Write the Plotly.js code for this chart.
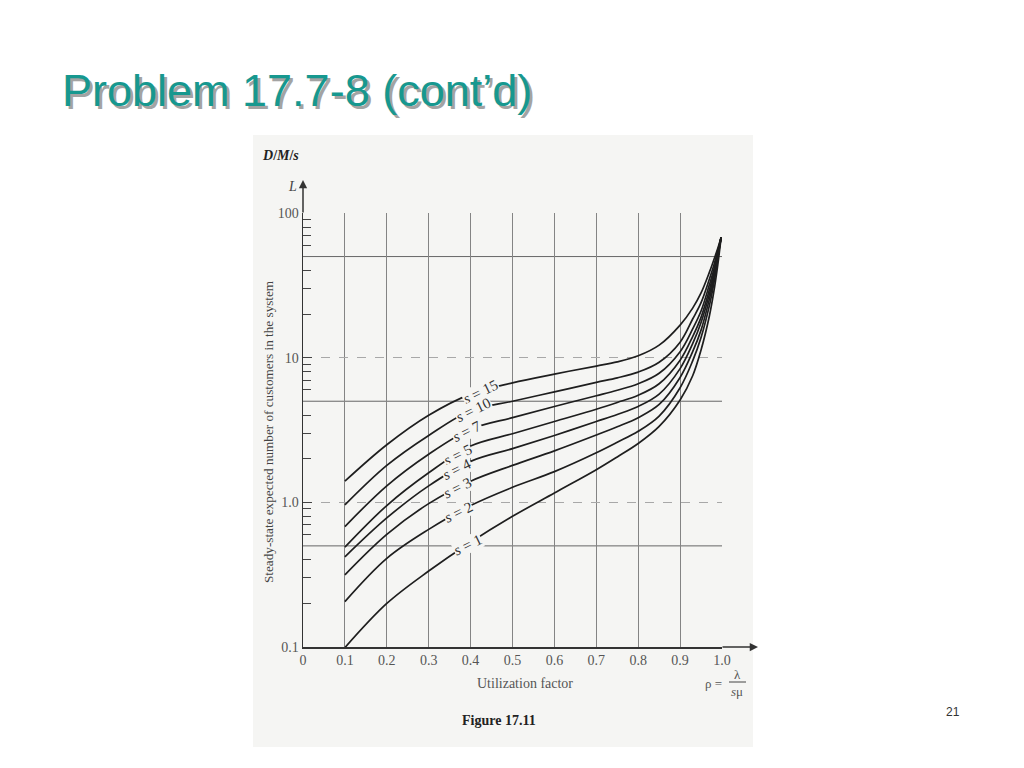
<!DOCTYPE html>
<html>
<head>
<meta charset="utf-8">
<script src="https://cdn.plot.ly/plotly-3.0.1.min.js"></script>
<style>html,body{margin:0;padding:0;background:#fff;}#chart{width:1024px;height:768px;}</style>
</head>
<body>
<div id="chart"></div>
<script>
// ---- data ----
const rho = [0.1, 0.2, 0.3, 0.4, 0.5, 0.6, 0.7, 0.75, 0.8, 0.85, 0.9, 0.93, 0.95, 0.97, 0.98, 0.99, 0.998];
const L_s15 = [1.40, 2.50, 4.00, 5.60, 6.70, 7.70, 8.75, 9.35, 10.3, 12.2, 16.8, 22, 28, 39, 47, 57, 68];
const L_s10 = [0.96, 1.80, 2.90, 4.30, 5.00, 5.80, 6.75, 7.25, 7.95, 9.3, 12.8, 18.5, 24, 35, 43, 55, 68];
const L_s7  = [0.68, 1.30, 2.15, 3.20, 3.85, 4.60, 5.45, 5.95, 6.6, 7.8, 11.0, 15.8, 21, 32, 40, 53, 68];
const L_s5  = [0.49, 0.95, 1.60, 2.45, 2.98, 3.62, 4.40, 4.90, 5.5, 6.6, 9.6, 14.0, 19, 29.5, 38, 52, 68];
const L_s4  = [0.42, 0.78, 1.30, 1.92, 2.35, 2.90, 3.62, 4.05, 4.6, 5.6, 8.4, 12.5, 17.5, 27.5, 36, 51, 68];
const L_s3  = [0.315, 0.60, 0.98, 1.40, 1.80, 2.27, 2.92, 3.33, 3.85, 4.75, 7.3, 11.0, 15.5, 25.5, 34, 50, 68];
const L_s2  = [0.206, 0.41, 0.65, 0.95, 1.27, 1.63, 2.20, 2.60, 3.1, 3.95, 6.2, 9.5, 13.8, 23, 32, 49, 68];
const L_s1  = [0.099, 0.20, 0.335, 0.53, 0.80, 1.16, 1.68, 2.06, 2.55, 3.35, 5.1, 7.5, 11.3, 19.5, 28, 44, 68];

const servers = [15, 10, 7, 5, 4, 3, 2, 1];
const seriesL = [L_s15, L_s10, L_s7, L_s5, L_s4, L_s3, L_s2, L_s1];
const labelRho = [0.4225, 0.406, 0.392, 0.368, 0.368, 0.368, 0.372, 0.392];

const xTickVals = [0, 0.1, 0.2, 0.3, 0.4, 0.5, 0.6, 0.7, 0.8, 0.9, 1.0];
const xTickText = ['0', '0.1', '0.2', '0.3', '0.4', '0.5', '0.6', '0.7', '0.8', '0.9', '1.0'];
const yTickVals = [0.1, 1, 10, 100];
const yTickText = ['0.1', '1.0', '10', '100'];
const yMinorVals = [0.2, 0.3, 0.4, 0.6, 0.7, 0.8, 0.9, 2, 3, 4, 6, 7, 8, 9, 20, 30, 40, 60, 70, 80, 90];
const refLines = [0.5, 5, 50];

// ---- styling ----
const BG = '#f5f5f3';
const SERIF = 'Liberation Serif, Times New Roman, serif';
const INK = '#1e1e1e';

// geometry helpers (pixel -> paper) for a 303..722 x 213..647 plot box
const PL = 303, PR = 722, PT = 213, PB = 647;
const px = v => (v - PL) / (PR - PL);
const py = v => (PB - v) / (PB - PT);

function interpLog(xs, ys, x) {
  for (let i = 0; i < xs.length - 1; i++) {
    if (x >= xs[i] && x <= xs[i + 1]) {
      const t = (x - xs[i]) / (xs[i + 1] - xs[i]);
      return Math.log10(ys[i]) + t * (Math.log10(ys[i + 1]) - Math.log10(ys[i]));
    }
  }
  return Math.log10(ys[ys.length - 1]);
}

const traces = seriesL.map((L, i) => ({
  x: rho, y: L, type: 'scatter', mode: 'lines',
  name: 's = ' + servers[i],
  line: { color: INK, width: 1.7, shape: 'spline', smoothing: 1.0 },
  hoverinfo: 'skip'
}));

const shapes = [
  { type: 'rect', xref: 'paper', yref: 'paper', x0: px(253), x1: px(753), y0: py(747), y1: py(135),
    fillcolor: BG, line: { width: 0 }, layer: 'below' }
];
refLines.forEach(v => shapes.push({
  type: 'line', xref: 'x', yref: 'y', x0: 0, x1: 1, y0: v, y1: v,
  line: { color: '#666', width: 1 }, layer: 'below'
}));
// fraction bar of rho = lambda / (s mu)
shapes.push({ type: 'line', xref: 'paper', yref: 'paper', x0: px(729), x1: px(746), y0: py(682), y1: py(682),
  line: { color: '#444', width: 1 } });

const annotations = [];
servers.forEach((s, i) => {
  annotations.push({
    x: labelRho[i], y: interpLog(rho, seriesL[i], labelRho[i]), xref: 'x', yref: 'y',
    text: '<i>s</i> = ' + s, showarrow: false, textangle: -26,
    font: { family: SERIF, size: 15, color: '#333' }, bgcolor: BG, borderpad: 0
  });
});
// axis arrows
annotations.push({ xref: 'paper', yref: 'paper', x: 0, y: py(180), ax: 0, ay: 34, text: '',
  showarrow: true, arrowhead: 2, arrowsize: 1.1, arrowwidth: 1.5, arrowcolor: '#333' });
annotations.push({ xref: 'paper', yref: 'paper', x: px(758), y: 0, ax: -37, ay: 0, text: '',
  showarrow: true, arrowhead: 2, arrowsize: 1.1, arrowwidth: 1.5, arrowcolor: '#333' });
// texts
annotations.push({ xref: 'paper', yref: 'paper', x: px(260), y: py(156), xanchor: 'left', yanchor: 'middle',
  text: '<b><i>D</i>/<i>M</i>/<i>s</i></b>', showarrow: false, font: { family: SERIF, size: 14, color: '#222' } });
annotations.push({ xref: 'paper', yref: 'paper', x: px(292), y: py(186), xanchor: 'center', yanchor: 'middle',
  text: '<i>L</i>', showarrow: false, font: { family: SERIF, size: 14, color: '#444' } });
annotations.push({ xref: 'paper', yref: 'paper', x: px(268), y: py(432), xanchor: 'center', yanchor: 'middle',
  text: 'Steady-state expected number of customers in the system', textangle: -90, showarrow: false,
  font: { family: SERIF, size: 13.2, color: '#444' } });
annotations.push({ xref: 'paper', yref: 'paper', x: px(525), y: py(683), xanchor: 'center', yanchor: 'middle',
  text: 'Utilization factor', showarrow: false, font: { family: SERIF, size: 14, color: '#555' } });
annotations.push({ xref: 'paper', yref: 'paper', x: px(713), y: py(683), xanchor: 'center', yanchor: 'middle',
  text: 'ρ =', showarrow: false, font: { family: SERIF, size: 13, color: '#555' } });
annotations.push({ xref: 'paper', yref: 'paper', x: px(737), y: py(674), xanchor: 'center', yanchor: 'middle',
  text: 'λ', showarrow: false, font: { family: SERIF, size: 13, color: '#555' } });
annotations.push({ xref: 'paper', yref: 'paper', x: px(737), y: py(691), xanchor: 'center', yanchor: 'middle',
  text: '<i>s</i>μ', showarrow: false, font: { family: SERIF, size: 13, color: '#555' } });
annotations.push({ xref: 'paper', yref: 'paper', x: px(499), y: py(720), xanchor: 'center', yanchor: 'middle',
  text: '<b>Figure 17.11</b>', showarrow: false, font: { family: SERIF, size: 14, color: '#222' } });
annotations.push({ xref: 'paper', yref: 'paper', x: px(953), y: py(712), xanchor: 'center', yanchor: 'middle',
  text: '21', showarrow: false, font: { family: 'Liberation Sans, Arial, sans-serif', size: 12, color: '#333' } });

const layout = {
  width: 1024, height: 768,
  margin: { l: PL, r: 1024 - PR, t: PT, b: 768 - PB, pad: 0 },
  paper_bgcolor: '#ffffff', plot_bgcolor: 'rgba(0,0,0,0)',
  showlegend: false, hovermode: false,
  title: {
    text: 'Problem 17.7-8 (cont’d)',
    xref: 'container', yref: 'container', x: 62 / 1024, xanchor: 'left',
    y: 1 - 90 / 768, yanchor: 'middle',
    font: { family: 'Liberation Sans, Arial, sans-serif', size: 45, color: '#17988f',
            shadow: '3px 3px 0px #a3a3a3' }
  },
  xaxis: {
    range: [0, 1.0], tickmode: 'array', tickvals: xTickVals, ticktext: xTickText,
    ticks: '', showgrid: true, gridcolor: '#848484', gridwidth: 1, zeroline: false,
    showline: true, linecolor: '#333', linewidth: 1.5,
    tickfont: { family: SERIF, size: 14, color: '#555' }, fixedrange: true
  },
  yaxis: {
    type: 'log', range: [-1, 2], tickmode: 'array', tickvals: yTickVals, ticktext: yTickText,
    ticks: 'inside', ticklen: 9, tickcolor: '#444', tickwidth: 1,
    minor: { tickmode: 'array', tickvals: yMinorVals, ticks: 'inside', ticklen: 8, tickcolor: '#444', showgrid: false },
    showgrid: true, gridcolor: '#a8a8a8', griddash: 'dash', gridwidth: 1, zeroline: false,
    showline: true, linecolor: '#333', linewidth: 1.5,
    tickfont: { family: SERIF, size: 14, color: '#555' }, fixedrange: true
  },
  shapes: shapes,
  annotations: annotations
};

Plotly.newPlot('chart', traces, layout, { staticPlot: true, displayModeBar: false });
</script>
</body>
</html>
